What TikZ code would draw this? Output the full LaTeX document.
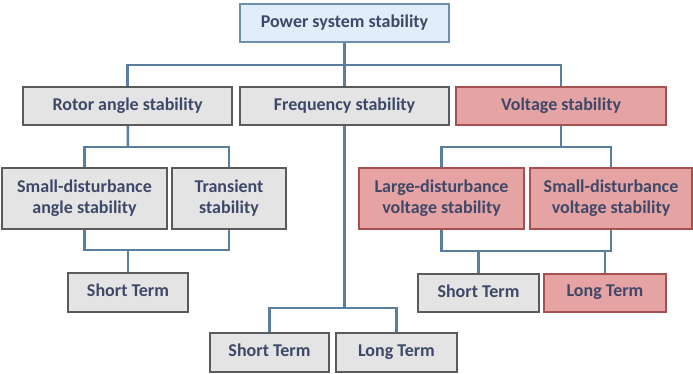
\documentclass[tikz,border=0pt]{standalone}
\usepackage{fontspec}
\setmainfont{Carlito}
\definecolor{txtc}{HTML}{3E4868}
\definecolor{linec}{HTML}{5A7E9E}
\definecolor{grayfill}{HTML}{E4E4E4}
\definecolor{grayline}{HTML}{5A5A5A}
\definecolor{bluefill}{HTML}{E1EEFA}
\definecolor{blueline}{HTML}{6F8FAF}
\definecolor{redfill}{HTML}{E6A3A3}
\definecolor{redline}{HTML}{A65050}
\begin{document}
\begin{tikzpicture}[x=1pt, y=-1pt,
    box/.style={rectangle, line width=2pt, inner sep=0pt, align=center,
        text depth=4pt, text=txtc, font=\fontsize{18}{21.5}\selectfont\bfseries}]
        \useasboundingbox (0,0) rectangle (693,374);

        \begin{scope}[
            bnode/.style={box, draw=blueline, fill=bluefill},
            gnode/.style={box, draw=grayline, fill=grayfill},
            rnode/.style={box, draw=redline, fill=redfill}]
            \node[bnode, minimum width=209, minimum height=38] (pss) at (344.5, 23) {Power system stability};
            \node[gnode, minimum width=209, minimum height=38] (rotor) at (127.5, 106) {Rotor angle stability};
            \node[gnode, minimum width=209, minimum height=38] (freq) at (344.5, 106) {Frequency stability};
            \node[rnode, minimum width=210, minimum height=38] (volt) at (561, 106) {Voltage stability};
            \node[gnode, minimum width=165, minimum height=61] (sda) at (84.5, 198.5) {Small-disturbance\\angle stability};
            \node[gnode, minimum width=114, minimum height=61] (trans) at (229, 198.5) {Transient\\stability};
            \node[rnode, minimum width=165, minimum height=61] (ldv) at (441.5, 198.5) {Large-disturbance\\voltage stability};
            \node[rnode, minimum width=162, minimum height=61] (sdv) at (611, 198.5) {Small-disturbance\\voltage stability};
            \node[gnode, minimum width=120, minimum height=39] (ast) at (128, 292.5) {Short Term};
            \node[gnode, minimum width=121, minimum height=38] (vst) at (478.5, 293) {Short Term};
            \node[rnode, minimum width=122, minimum height=38] (vlt) at (605, 293) {Long Term};
            \node[gnode, minimum width=119, minimum height=39] (fst) at (269.5, 352.5) {Short Term};
            \node[gnode, minimum width=121, minimum height=39] (flt) at (396.5, 352.5) {Long Term};
        \end{scope}

        \coordinate (top) at (344.5, 65);
        \coordinate (aj) at (128, 147);
        \coordinate (ab) at (128, 250);
        \coordinate (vj) at (561, 147);
        \coordinate (vb) at (527, 251);
        \coordinate (fj) at (344.5, 308);

        \begin{scope}[line width=2.5pt, linec]
            \draw (pss) -- (freq);
            \draw (rotor.north) |- (top) -| (volt.north);
            \draw (rotor) -- (aj);
            \draw (sda.north) |- (aj) -| (trans.north);
            \draw (sda.south) |- (ab) -| (trans.south);
            \draw (ab) -- (ast);
            \draw (volt) -- (vj);
            \draw (ldv.north) |- (vj) -| (sdv.north);
            \draw (ldv.south) |- (vb) -| (sdv.south);
            \draw (vst.north) -- (vst |- vb);
            \draw (vlt.north) -- (vlt |- vb);
            \draw (freq) -- (fj);
            \draw (fst.north) |- (fj) -| (flt.north);
        \end{scope}

        \end{tikzpicture}
\end{document}
